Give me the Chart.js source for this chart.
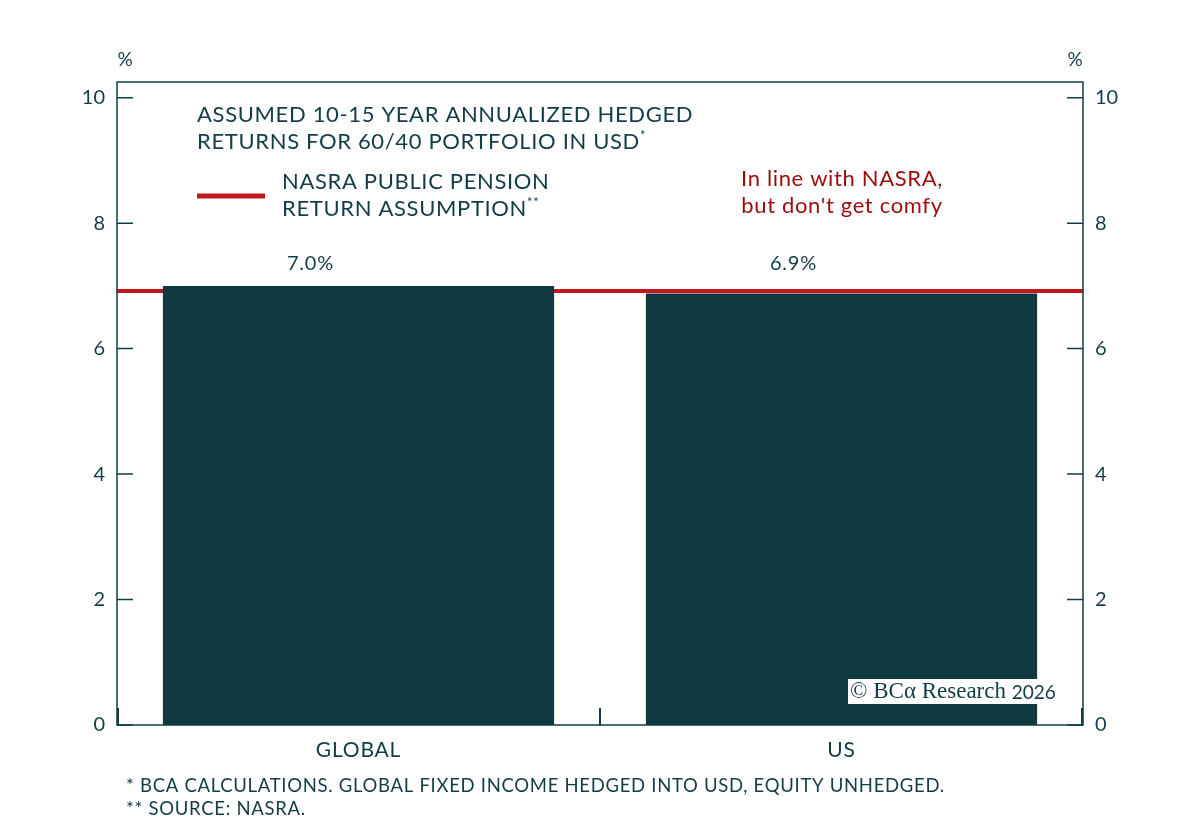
<!DOCTYPE html>
<html>
<head>
<meta charset="utf-8">
<script src="https://cdn.jsdelivr.net/npm/chart.js@4.4.1/dist/chart.umd.min.js"></script>
<style>
  html, body { margin: 0; padding: 0; background: #fff; }
  #wrap { width: 1200px; height: 830px; }
</style>
</head>
<body>
<div id="wrap"><canvas id="chart" width="1200" height="830"></canvas></div>
<script>
(function () {
    'use strict';

    /* ── Datos ─────────────────────────────────────────── */
    var CATEGORIES    = ['GLOBAL', 'US'];
    var RETURNS       = [7.0, 6.88];
    var RETURN_LABELS = ['7.0%', '6.9%'];
    var NASRA         = [6.92, 6.92];
    var Y_TICKS       = [0, 2, 4, 6, 8, 10];

    /* ── Colores ───────────────────────────────────────── */
    var TEAL_DARK = '#10393f';
    var INK       = '#133c44';
    var RED       = '#c0181d';
    var RED_DARK  = '#9b0b0b';
    var FONT      = 'Lato, "Open Sans", sans-serif';

    var PLOT = { left: 117, right: 1083, top: 82, bottom: 725 };

    /* ── Plugin: marco, ticks internos y textos ─────────── */
    var decor = {
        id: 'decor',
        afterDraw: function (chart) {
            var c  = chart.ctx;
            var a  = chart.chartArea;
            var y  = chart.scales.y;
            var x  = chart.scales.x;

            c.save();
            c.strokeStyle = INK;
            c.lineWidth = 1.5;
            c.strokeRect(a.left, a.top, a.right - a.left, a.bottom - a.top);

            // ticks hacia dentro en ambos ejes Y
            Y_TICKS.forEach(function (v) {
                var py = y.getPixelForValue(v);
                c.beginPath();
                c.moveTo(a.left, py);  c.lineTo(a.left + 16, py);
                c.moveTo(a.right, py); c.lineTo(a.right - 16, py);
                c.stroke();
            });

            // ticks de separación en el eje X
            c.lineWidth = 2;
            var bounds = [a.left + 1, (x.getPixelForValue(0) + x.getPixelForValue(1)) / 2, a.right - 1];
            bounds.forEach(function (bx) {
                c.beginPath();
                c.moveTo(bx, a.bottom);
                c.lineTo(bx, a.bottom - 17);
                c.stroke();
            });

            c.fillStyle = INK;
            c.textAlign = 'center';
            c.textBaseline = 'middle';

            // etiquetas de categoría
            c.letterSpacing = '0.8px';
            c.font = '21px ' + FONT;
            CATEGORIES.forEach(function (lab, i) {
                c.fillText(lab, x.getPixelForValue(i), 750);
            });

            // etiquetas de valor
            var meta = chart.getDatasetMeta(1);
            c.font = '20px ' + FONT;
            meta.data.forEach(function (bar, i) {
                c.fillText(RETURN_LABELS[i], bar.x - 48, y.getPixelForValue(7.35));
            });

            // "%" arriba de cada eje
            c.letterSpacing = '0px';
            c.font = '19px ' + FONT;
            c.fillText('%', 125, 60);
            c.fillText('%', 1075, 60);

            // título / leyenda
            c.letterSpacing = '0.65px';
            c.textAlign = 'left';
            c.font = '22px ' + FONT;
            c.fillText('ASSUMED 10-15 YEAR ANNUALIZED HEDGED', 197, 115);
            c.fillText('RETURNS FOR 60/40 PORTFOLIO IN USD', 197, 142);
            var w1 = c.measureText('RETURNS FOR 60/40 PORTFOLIO IN USD').width;
            c.font = '13px ' + FONT;
            c.fillText('*', 197 + w1, 136);

            c.strokeStyle = RED;
            c.lineWidth = 5;
            c.beginPath();
            c.moveTo(197, 196);
            c.lineTo(265, 196);
            c.stroke();

            c.font = '22px ' + FONT;
            c.fillText('NASRA PUBLIC PENSION', 282, 182);
            c.fillText('RETURN ASSUMPTION', 282, 209);
            var w2 = c.measureText('RETURN ASSUMPTION').width;
            c.font = '13px ' + FONT;
            c.fillText('**', 282 + w2, 203);

            // anotación
            c.fillStyle = RED_DARK;
            c.textAlign = 'center';
            c.font = '22px ' + FONT;
            c.fillText('In line with NASRA,', 842, 179);
            c.fillText("but don't get comfy", 842, 206);

            // marca de agua
            c.letterSpacing = '0px';
            c.fillStyle = '#ffffff';
            c.fillRect(848, 679, 212, 25);
            c.fillStyle = INK;
            c.textAlign = 'left';
            c.font = '23px "Liberation Serif", "DejaVu Serif", serif';
            c.fillText('\u00a9 BC\u03b1 Research', 850, 692);
            var w3 = c.measureText('\u00a9 BC\u03b1 Research ').width;
            c.font = '19px ' + FONT;
            c.fillText('2026', 850 + w3, 693);

            // notas al pie
            c.letterSpacing = '0.7px';
            c.font = '18.5px ' + FONT;
            c.fillText('* BCA CALCULATIONS. GLOBAL FIXED INCOME HEDGED INTO USD, EQUITY UNHEDGED.', 126, 786);
            c.fillText('** SOURCE: NASRA.', 126, 809);
            c.restore();
        }
    };

    /* ── Gráfico ───────────────────────────────────────── */
    new Chart(document.getElementById('chart'), {
        type: 'bar',
        data: {
            labels: CATEGORIES,
            datasets: [
                {
                    type: 'line',
                    label: 'NASRA',
                    xAxisID: 'xLine',
                    data: [{ x: 0, y: NASRA[0] }, { x: 1, y: NASRA[1] }],
                    borderColor: RED,
                    borderWidth: 4,
                    pointRadius: 0,
                    order: 2
                },
                {
                    label: 'Returns',
                    data: RETURNS,
                    backgroundColor: TEAL_DARK,
                    barPercentage: 0.81,
                    categoryPercentage: 1,
                    grouped: false,
                    order: 1
                }
            ]
        },
        options: {
            responsive: false,
            animation: false,
            events: [],
            layout: { padding: { top: PLOT.top, left: 0, right: 0, bottom: 0 } },
            plugins: { legend: { display: false }, tooltip: { enabled: false } },
            scales: {
                x: {
                    grid: { display: false },
                    border: { display: false },
                    ticks: { display: false },
                    afterFit: function (s) { s.height = 830 - PLOT.bottom; }
                },
                xLine: {
                    type: 'linear',
                    display: false,
                    offset: false,
                    min: 0,
                    max: 1
                },
                y: {
                    position: 'left',
                    min: 0,
                    max: 10.25,
                    grid: { display: false },
                    border: { display: false },
                    afterBuildTicks: function (s) { s.ticks = Y_TICKS.map(function (v) { return { value: v }; }); },
                    ticks: { color: INK, font: { family: FONT, size: 20 }, padding: 4 },
                    afterFit: function (s) { s.width = PLOT.left; }
                },
                y2: {
                    position: 'right',
                    min: 0,
                    max: 10.25,
                    grid: { display: false },
                    border: { display: false },
                    afterBuildTicks: function (s) { s.ticks = Y_TICKS.map(function (v) { return { value: v }; }); },
                    ticks: { color: INK, font: { family: FONT, size: 20 }, padding: 4 },
                    afterFit: function (s) { s.width = 1200 - PLOT.right; }
                }
            }
        },
        plugins: [decor]
    });
})();
</script>
</body>
</html>
